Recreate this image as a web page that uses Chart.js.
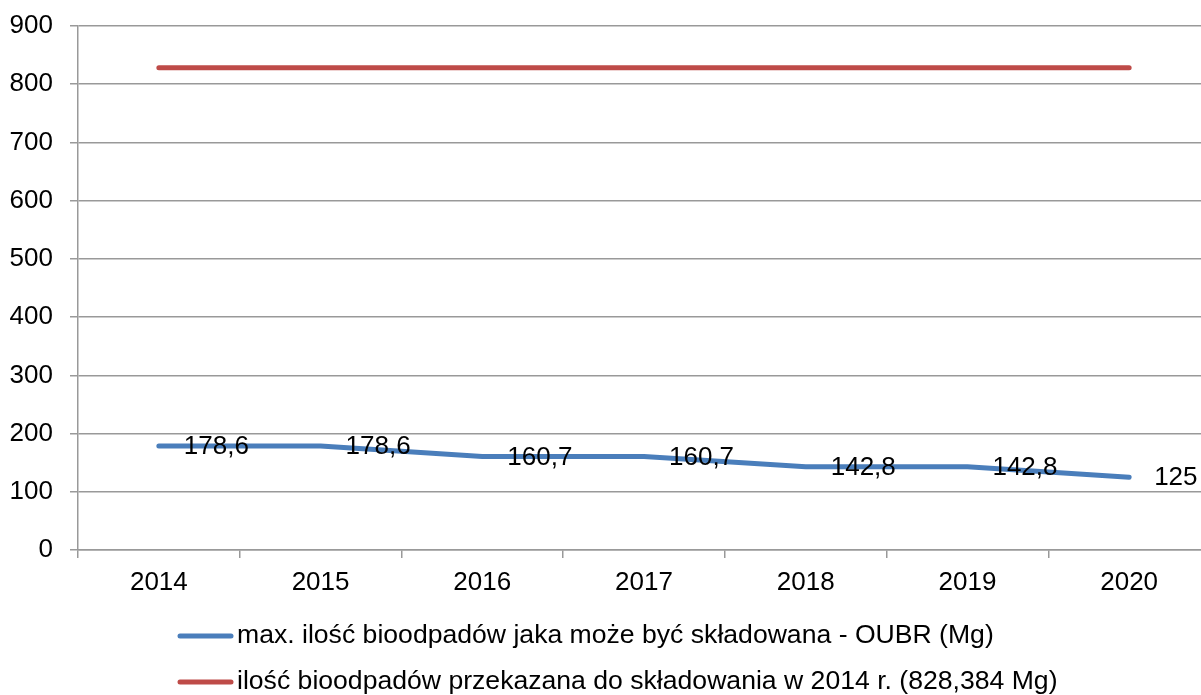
<!DOCTYPE html>
<html>
<head>
<meta charset="utf-8">
<script src="https://cdn.jsdelivr.net/npm/chart.js@4/dist/chart.umd.min.js"></script>
<style>
html,body{margin:0;padding:0;background:#fff;overflow:hidden;}
#wrap{position:relative;width:1210px;height:695px;}
</style>
</head>
<body>
<div id="wrap"><canvas id="c"></canvas></div>
<script>
const categories = ['2014','2015','2016','2017','2018','2019','2020'];
const maxBio = [178.6, 178.6, 160.7, 160.7, 142.8, 142.8, 125];
const bio2014 = [828.384, 828.384, 828.384, 828.384, 828.384, 828.384, 828.384];
const seriesNames = [
  'max. ilość bioodpadów jaka może być składowana - OUBR (Mg)',
  'ilość bioodpadów przekazana do składowania w 2014 r. (828,384 Mg)'
];
const yTicks = [0,100,200,300,400,500,600,700,800,900];

const FONT = '"Liberation Sans", Arial, sans-serif';
const FS = 26;
const BLUE = '#4A7EBB';
const RED = '#BE4B48';
const GRID = '#999999';

const labelPlugin = {
  id: 'valueLabels',
  afterDatasetsDraw(chart) {
    const ctx = chart.ctx;
    const meta = chart.getDatasetMeta(0);
    ctx.save();
    ctx.font = FS + 'px ' + FONT;
    ctx.fillStyle = '#000';
    ctx.textAlign = 'left';
    ctx.textBaseline = 'middle';
    meta.data.forEach((pt, i) => {
      const txt = String(maxBio[i]).replace('.', ',');
      ctx.fillText(txt, pt.x + 25, pt.y + 1);
    });
    ctx.restore();
  }
};

const legendPlugin = {
  id: 'customLegend',
  afterDraw(chart) {
    const ctx = chart.ctx;
    ctx.save();
    ctx.font = '26.6px ' + FONT;
    ctx.textBaseline = 'middle';
    ctx.textAlign = 'left';
    const rows = [[BLUE, 636], [RED, 682]];
    rows.forEach((r, i) => {
      ctx.strokeStyle = r[0];
      ctx.lineWidth = 5;
      ctx.lineCap = 'round';
      ctx.beginPath();
      ctx.moveTo(180, r[1]);
      ctx.lineTo(231, r[1]);
      ctx.stroke();
      ctx.fillStyle = '#000';
      ctx.fillText(seriesNames[i], 237, r[1]);
    });
    ctx.restore();
  }
};

new Chart(document.getElementById('c'), {
  type: 'line',
  data: {
    labels: categories,
    datasets: [
      { label: seriesNames[0], data: maxBio, borderColor: BLUE, backgroundColor: BLUE,
        borderWidth: 5, pointRadius: 0, tension: 0, borderCapStyle: 'round', borderJoinStyle: 'round' },
      { label: seriesNames[1], data: bio2014, borderColor: RED, backgroundColor: RED,
        borderWidth: 5, pointRadius: 0, tension: 0, borderCapStyle: 'round', borderJoinStyle: 'round' }
    ]
  },
  options: {
    responsive: true,
    maintainAspectRatio: false,
    animation: false,
    layout: { padding: { top: 0, right: 0, bottom: 0, left: 0 } },
    plugins: { legend: { display: false }, tooltip: { enabled: false } },
    scales: {
      x: {
        offset: true,
        afterFit(s) { s.height = 145; },
        grid: { display: true, drawOnChartArea: false, drawTicks: true, tickLength: 8, offset: true, color: GRID, lineWidth: 1.5 },
        border: { display: true, color: GRID, width: 1.5 },
        ticks: { color: '#000', font: { family: FONT, size: FS }, padding: 9, maxRotation: 0 }
      },
      y: {
        min: 0, max: 900,
        afterFit(s) { s.width = 78; s.paddingTop = 26; s.paddingBottom = 0; },
        afterBuildTicks(s) { s.ticks = yTicks.map(v => ({ value: v })); },
        grid: { color: GRID, lineWidth: 1.5, tickLength: 8 },
        border: { display: true, color: GRID, width: 1.5 },
        ticks: { color: '#000', font: { family: FONT, size: FS, lineHeight: 1.0 }, padding: 17 }
      }
    }
  },
  plugins: [labelPlugin, legendPlugin]
});
</script>
</body>
</html>
